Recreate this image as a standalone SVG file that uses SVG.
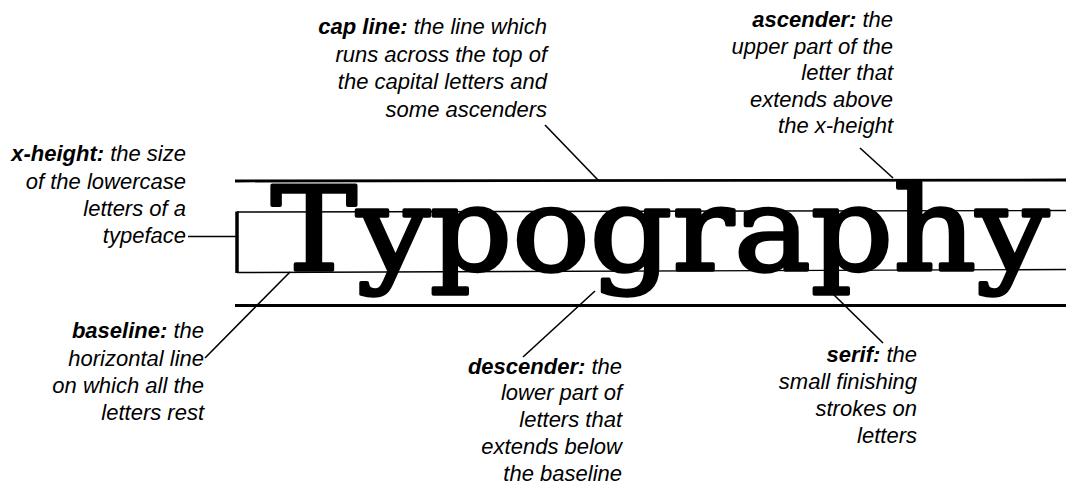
<svg xmlns="http://www.w3.org/2000/svg" width="1066" height="493" viewBox="0 0 1066 493">
<style>
.lbl{font-family:"Liberation Sans",Arial,sans-serif;font-size:22px;font-style:italic;fill:#000;text-anchor:end}
.term{font-weight:bold}
.conn{stroke:#000;stroke-width:1.6;fill:none}
.guide{stroke:#000;fill:none}
</style>
<rect width="1066" height="493" fill="#fff"/>
<g id="guides">
<line class="guide" x1="235" y1="181" x2="1066" y2="180" stroke-width="2.8"/>
<line class="guide" x1="237" y1="212" x2="1066" y2="210.5" stroke-width="1.4"/>
<line class="guide" x1="237" y1="272.5" x2="1066" y2="269.5" stroke-width="1.4"/>
<line class="guide" x1="237" y1="211.5" x2="237" y2="273" stroke-width="3.5"/>
<line class="guide" x1="235" y1="305.5" x2="1066" y2="305.5" stroke-width="3"/>
</g>
<g id="word">
<text x="271" y="270" font-family="'DejaVu Serif',serif" font-size="116" textLength="778" lengthAdjust="spacingAndGlyphs" fill="#000" stroke="#000" stroke-width="3.4" stroke-linejoin="round">Typography</text>
</g>
<g id="connectors">
<line class="conn" x1="188" y1="236.5" x2="236" y2="236.5"/>
<line class="conn" x1="545" y1="125" x2="598" y2="180"/>
<line class="conn" x1="860" y1="148" x2="893" y2="178"/>
<line class="conn" x1="205" y1="358" x2="290" y2="272"/>
<line class="conn" x1="523" y1="357" x2="595" y2="291"/>
<line class="conn" x1="883" y1="343" x2="831" y2="292"/>
</g>
<g id="cap-line">
<text class="lbl"><tspan x="547" y="34"><tspan class="term">cap line:</tspan> the line which</tspan><tspan x="547" y="62">runs across the top of</tspan><tspan x="547" y="89">the capital letters and</tspan><tspan x="547" y="117">some ascenders</tspan></text>
</g>
<g id="ascender">
<text class="lbl"><tspan x="893" y="27"><tspan class="term">ascender:</tspan> the</tspan><tspan x="893" y="53.5">upper part of the</tspan><tspan x="893" y="80">letter that</tspan><tspan x="893" y="106.5">extends above</tspan><tspan x="893" y="133">the x-height</tspan></text>
</g>
<g id="x-height">
<text class="lbl"><tspan x="186" y="161"><tspan class="term">x-height:</tspan> the size</tspan><tspan x="186" y="189">of the lowercase</tspan><tspan x="186" y="216">letters of a</tspan><tspan x="186" y="243">typeface</tspan></text>
</g>
<g id="baseline">
<text class="lbl"><tspan x="204" y="338"><tspan class="term">baseline:</tspan> the</tspan><tspan x="204" y="366">horizontal  line</tspan><tspan x="204" y="393">on which all the</tspan><tspan x="204" y="420">letters rest</tspan></text>
</g>
<g id="descender">
<text class="lbl"><tspan x="622" y="374"><tspan class="term">descender:</tspan> the</tspan><tspan x="622" y="400">lower part of</tspan><tspan x="622" y="427">letters that</tspan><tspan x="622" y="454">extends below</tspan><tspan x="622" y="481">the baseline</tspan></text>
</g>
<g id="serif">
<text class="lbl"><tspan x="917" y="362"><tspan class="term">serif:</tspan> the</tspan><tspan x="917" y="389">small finishing</tspan><tspan x="917" y="416">strokes on</tspan><tspan x="917" y="443">letters</tspan></text>
</g>
</svg>
